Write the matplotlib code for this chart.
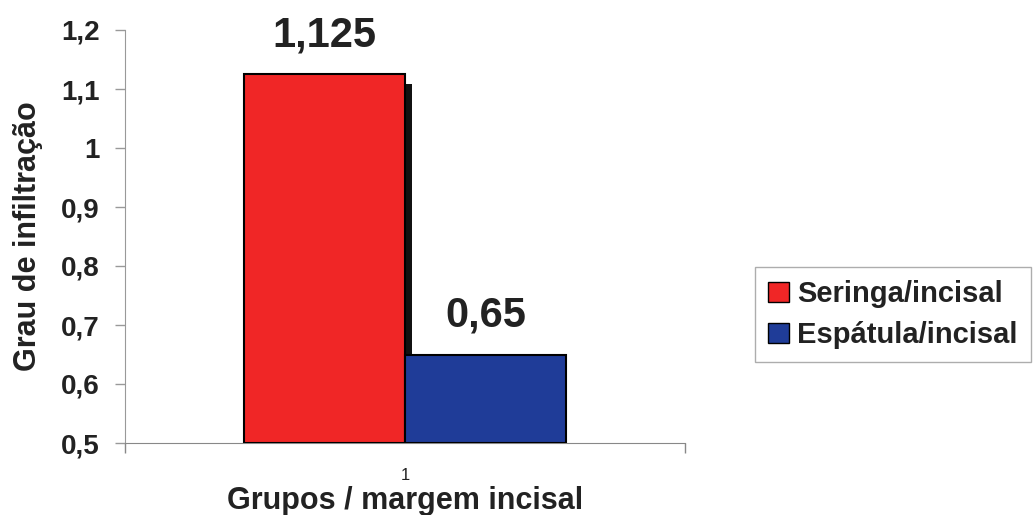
import matplotlib
matplotlib.use("Agg")
import matplotlib.pyplot as plt
import matplotlib.patheffects as pe
from matplotlib.patches import Patch
import numpy as np

categories = ["1"]
series_names = ["Seringa/incisal", "Espátula/incisal"]
series_values = [[1.125], [0.65]]
series_colors = ["#F02626", "#1F3C98"]
y_ticks = [0.5, 0.6, 0.7, 0.8, 0.9, 1.0, 1.1, 1.2]
y_tick_labels = ["0,5", "0,6", "0,7", "0,8", "0,9", "1", "1,1", "1,2"]
x_label = "Grupos / margem incisal"
y_label = "Grau de infiltração"

plt.rcParams['font.family'] = ['Liberation Sans', 'DejaVu Sans']

fig = plt.figure(figsize=(10.34, 5.15), dpi=100)
ax = fig.add_axes([125/1034, 1 - 443/515, 560/1034, 413/515])

x = np.arange(len(categories)) + 1
width = 0.287
n = len(series_names)
for i, (name, vals, col) in enumerate(zip(series_names, series_values, series_colors)):
    pos = x + (i - (n - 1) / 2) * width
    bars = ax.bar(pos, [v - 0.5 for v in vals], width=width, bottom=0.5, color=col,
                  edgecolor='black', linewidth=1.5, zorder=3 + i, label=name)
    if i == 0:
        for b in bars:
            b.set_path_effects([pe.SimplePatchShadow(offset=(5, -7), shadow_rgbFace='#111111', alpha=1.0), pe.Normal()])
    for p, v in zip(pos, vals):
        ax.annotate(f"{v:g}".replace('.', ','), xy=(p, v), xytext=(0, 20),
                    textcoords='offset points', ha='center', va='baseline',
                    fontsize=30, fontweight='bold', color='#222222')

ax.set_xlim(0.5, 1.5)
ax.set_ylim(0.5, 1.2)
ax.set_yticks(y_ticks)
ax.set_yticklabels(y_tick_labels, fontsize=20, fontweight='bold', color='#222222')
ax.set_xticks(x)
ax.set_xticklabels(categories, fontsize=12, color='#222222')
ax.set_xticks([0.5, 1.5], minor=True)
ax.tick_params(axis='x', which='major', length=0, pad=18)
ax.tick_params(axis='x', which='minor', length=7, color='#888888', width=1)
ax.tick_params(axis='y', length=7, color='#999999', width=1, pad=11)

for s in ['top', 'right']:
    ax.spines[s].set_visible(False)
ax.spines['left'].set_color('#999999')
ax.spines['bottom'].set_color('#888888')

ax.set_xlabel(x_label, fontsize=22, fontweight='bold', color='#222222', labelpad=2)
ax.set_ylabel(y_label, fontsize=22, fontweight='bold', color='#222222', labelpad=13)

handles = [Patch(facecolor=c, edgecolor='black', linewidth=1, label=nm)
           for nm, c in zip(series_names, series_colors)]
leg = fig.legend(handles=handles, loc='upper left', bbox_to_anchor=(755/1034, 1 - 267/515),
                 prop={'weight': 'bold', 'size': 21}, frameon=True, fancybox=False,
                 edgecolor='#999999', handlelength=0.7, handleheight=0.7, handletextpad=0.3,
                 labelspacing=0.45, borderpad=0.45, borderaxespad=0)
for t in leg.get_texts():
    t.set_color('#222222')

fig.savefig("out.png", dpi=100)
